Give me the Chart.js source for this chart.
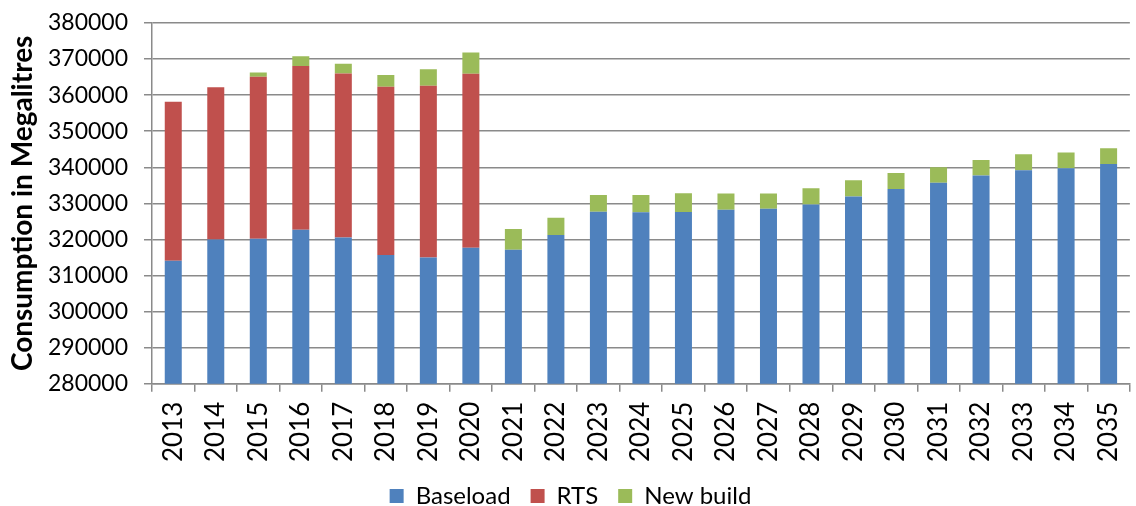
<!DOCTYPE html>
<html>
<head>
<meta charset="utf-8">
<title>Consumption in Megalitres</title>
<script src="https://cdn.jsdelivr.net/npm/chart.js@4/dist/chart.umd.min.js"></script>
<style>
    html, body { margin: 0; padding: 0; background: #fff; overflow: hidden; }
    #wrap { position: relative; width: 1150px; height: 506px; }
</style>
</head>
<body>
<div id="wrap"><canvas id="consumptionChart"></canvas></div>
<script>
// Data (megalitres)
const years = ['2013', '2014', '2015', '2016', '2017', '2018', '2019', '2020', '2021', '2022', '2023', '2024',
    '2025', '2026', '2027', '2028', '2029', '2030', '2031', '2032', '2033', '2034', '2035'];
const baseload = [314100, 320000, 320200, 322700, 320500, 315700, 315000, 317700, 317100, 321200, 327700, 327500,
    327600, 328200, 328500, 329700, 331900, 334000, 335700, 337700, 339200, 339700, 340900];
const rts = [44100, 42200, 44900, 45400, 45500, 46600, 47600, 48200, 0, 0, 0, 0,
    0, 0, 0, 0, 0, 0, 0, 0, 0, 0, 0];
const newBuild = [0, 0, 1200, 2700, 2700, 3300, 4600, 5900, 5800, 4800, 4600, 4800,
    5200, 4500, 4200, 4500, 4500, 4400, 4300, 4300, 4400, 4400, 4400];

const FONT = 'Lato, "Open Sans", sans-serif';
const GRID = '#8a8a8a';

function makeDataset(label, data, color) {
    return {
        label: label,
        data: data,
        backgroundColor: color,
        borderWidth: 0,
        barPercentage: 0.4,
        categoryPercentage: 1.0
    };
}

const ctx = document.getElementById('consumptionChart').getContext('2d');
new Chart(ctx, {
    type: 'bar',
    data: {
        labels: years,
        datasets: [
            makeDataset('Baseload', baseload, '#4F81BD'),
            makeDataset('RTS', rts, '#C0504D'),
            makeDataset('New build', newBuild, '#9BBB59')
        ]
    },
    options: {
        responsive: true,
        maintainAspectRatio: false,
        animation: false,
        // negative bottom padding pulls the legend down near the edge
        layout: { padding: { left: 0, right: 9, top: 23, bottom: -12 } },
        plugins: {
            legend: {
                position: 'bottom',
                labels: {
                    font: { family: FONT, size: 24 },
                    color: '#000',
                    boxWidth: 14,
                    boxHeight: 14,
                    padding: 20
                }
            },
            tooltip: { enabled: false }
        },
        scales: {
            x: {
                stacked: true,
                // let the year labels hang a little into the legend band
                afterFit: scale => { scale.height = scale.height - 8; },
                grid: {
                    offset: true,
                    drawOnChartArea: false,
                    drawTicks: true,
                    tickLength: 8,
                    color: GRID,
                    lineWidth: 1.5
                },
                border: { color: GRID, width: 1.5 },
                ticks: {
                    minRotation: 90,
                    maxRotation: 90,
                    autoSkip: false,
                    padding: 10,
                    color: '#000',
                    font: { family: FONT, size: 26 }
                }
            },
            y: {
                stacked: true,
                min: 280000,
                max: 380000,
                afterFit: scale => {
                    scale.width = 152;
                    scale.paddingTop = 0;
                    scale.paddingBottom = 0;
                },
                title: {
                    display: true,
                    text: 'Consumption in Megalitres',
                    color: '#000',
                    font: { family: FONT, size: 28, weight: 'bold' },
                    padding: { top: 6, bottom: 0 }
                },
                grid: {
                    color: GRID,
                    lineWidth: 1.5,
                    tickLength: 8
                },
                border: { color: GRID, width: 1.5 },
                ticks: {
                    stepSize: 10000,
                    padding: 16,
                    color: '#000',
                    font: { family: FONT, size: 23 },
                    callback: value => String(value)
                }
            }
        }
    }
});
</script>
</body>
</html>
